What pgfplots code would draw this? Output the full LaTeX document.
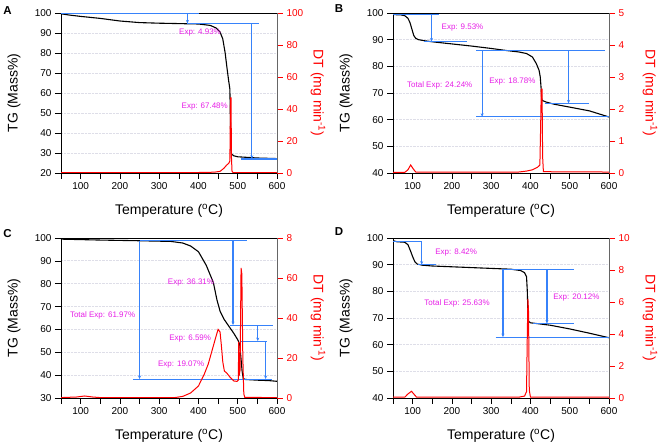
\documentclass[border=0pt]{standalone}
\usepackage{fontspec}
\setmainfont{Liberation Sans}
\usepackage{pgfplots}
\pgfplotsset{compat=1.18}
\usetikzlibrary{arrows.meta}
\definecolor{annblue}{RGB}{55,130,250}
\definecolor{annmag}{RGB}{230,30,230}
\definecolor{dtred}{RGB}{255,0,0}
\definecolor{gridc}{RGB}{222,222,232}
\pgfplotsset{
  tgaxis/.style={scale only axis, width=216pt, height=160pt, anchor=south west,
    xmin=50, xmax=600, xtick={100,200,...,600}, minor xtick={50,150,...,550},
    xtick pos=bottom, ytick pos=left, tick align=outside,
    major tick length=6pt, minor tick length=6pt,
    every tick/.style={black, line width=0.6pt},
    axis line style={black, line width=0.8pt},
    ymajorgrids, major grid style={gridc, densely dotted, line width=0.8pt},
    xlabel={Temperature (\textsuperscript{o}C)}, ylabel={TG (Mass\%)},
    label style={font=\fontsize{14}{16}\selectfont},
    tick label style={font=\fontsize{10}{12}\selectfont},
    xlabel style={at={(axis description cs:0.5,-0.236)}, anchor=center},
    ylabel style={at={(axis description cs:-0.218,0.5)}, anchor=center},
    /pgf/number format/assume math mode=true},
  dtaxis/.style={scale only axis, width=216pt, height=160pt, anchor=south west,
    xmin=50, xmax=600, axis x line=none, axis y line*=right, ymin=0,
    tick align=outside, major tick length=6pt,
    every tick/.style={dtred, line width=0.6pt},
    y axis line style={black!60, line width=0.8pt},
    yticklabel style={dtred, font=\fontsize{10}{12}\selectfont},
    ylabel={DT (mg min\textsuperscript{-1})},
    ylabel style={dtred, font=\fontsize{14}{16}\selectfont, at={(axis description cs:1.19,0.5)}, anchor=center, rotate=180},
    /pgf/number format/assume math mode=true},
  tg/.style={black, line width=1.1pt},
  dt/.style={dtred, line width=1.0pt},
}
\tikzset{
  bl/.style={annblue, line width=1.1pt},
  ba/.style={annblue, line width=1.1pt, -{Stealth[length=3.5pt,width=3pt]}},
  mt/.style={annmag, font=\fontsize{8}{9}\selectfont, inner sep=0pt},
}
\begin{document}
\begin{tikzpicture}[x=1pt,y=1pt]
\useasboundingbox (0,0) rectangle (661,446);
% Panel letters
\node[font=\bfseries\fontsize{11.5}{12}\selectfont] at (7.5,435.5) {A};
\node[font=\bfseries\fontsize{11.5}{12}\selectfont] at (339,437) {B};
\node[font=\bfseries\fontsize{11.5}{12}\selectfont] at (7.5,212) {C};
\node[font=\bfseries\fontsize{11.5}{12}\selectfont] at (339,214) {D};

% ================= A =================
\begin{axis}[tgaxis, at={(61pt,273pt)}, ymin=20, ymax=100, ytick={20,30,...,100}]
\addplot[tg] table {
50 99.6
70 99.0
100 98.3
150 97.3
200 96.0
250 95.2
300 94.9
350 94.7
400 94.5
430 93.8
445 92.5
455 90.5
462 87
468 80
473 72
477 66
480 62
481.5 45
482.5 32
484 29.5
490 28.6
500 28.1
550 27.5
600 27.2
};
\draw[bl] (axis cs:50,99.6) -- (axis cs:402,99.6);
\draw[ba] (axis cs:372,99.6) -- (axis cs:372,94.8);
\draw[bl] (axis cs:372,94.8) -- (axis cs:553,94.8);
\draw[ba] (axis cs:536,94.8) -- (axis cs:536,27.1);
\draw[bl] (axis cs:508,27.0) -- (axis cs:600,27.0);
\node[mt] at (axis cs:404,90.4) {Exp: 4.93\%};
\node[mt] at (axis cs:416,53.4) {Exp: 67.48\%};
\end{axis}
\begin{axis}[dtaxis, at={(61pt,273pt)}, ymax=100, ytick={0,20,...,100}]
\addplot[dt] table {
50 0.3
400 0.3
440 0.5
455 1
465 3
472 5
477 6
480 7.5
481 30
481.8 47
483 47
484 10
485.5 1
488 0.3
600 0.3
};
\end{axis}

% ================= B =================
\begin{axis}[tgaxis, at={(393pt,273pt)}, ymin=40, ymax=100, ytick={40,50,...,100}]
\addplot[tg] table {
50 99.4
70 99.3
80 99.0
88 98
93 96.5
98 94
103 91.5
108 90.5
115 90.0
130 89.6
150 89.2
200 88.4
250 87.6
300 86.7
340 85.9
370 85.4
390 84.8
405 83.5
415 81
422 78.5
425 76
427 72
428.5 68
430 67.2
440 66.6
460 65.8
500 64.7
550 63.3
600 61.0
};
\draw[bl] (axis cs:50,99.3) -- (axis cs:166,99.3);
\draw[ba] (axis cs:148,99.3) -- (axis cs:148,89.3);
\draw[bl] (axis cs:129,89.3) -- (axis cs:239,89.3);
\draw[bl] (axis cs:262,86.1) -- (axis cs:590,86.1);
\draw[ba] (axis cs:277,86.1) -- (axis cs:277,61.1);
\draw[ba] (axis cs:497,86.1) -- (axis cs:497,66.1);
\draw[bl] (axis cs:436,66.1) -- (axis cs:549,66.1);
\draw[bl] (axis cs:262,61.1) -- (axis cs:600,61.1);
\node[mt] at (axis cs:227,94.5) {Exp: 9.53\%};
\node[mt] at (axis cs:169,73) {Total Exp: 24.24\%};
\node[mt] at (axis cs:354,74.4) {Exp: 18.78\%};
\end{axis}
\begin{axis}[dtaxis, at={(393pt,273pt)}, ymax=5, ytick={0,1,...,5}]
\addplot[dt] table {
50 0.02
80 0.02
88 0.1
95 0.25
102 0.12
108 0.03
370 0.03
390 0.06
405 0.1
418 0.18
424 0.25
426 1.5
427.5 2.62
429.5 2.62
431 0.5
433 0.04
600 0.03
};
\end{axis}

% ================= C =================
\begin{axis}[tgaxis, at={(61pt,48pt)}, ymin=30, ymax=100, ytick={30,40,...,100}]
\addplot[tg] table {
50 99.5
150 99.1
250 98.8
330 98.5
360 97.8
380 96.5
400 94
420 88
438 80.5
447 73
455 68
465 64.5
475 62
490 58.3
500 55.5
505 53.5
508 48
511 42
514 38.5
520 38.1
550 37.8
580 37.6
600 37.3
};
\draw[bl] (axis cs:250,98.8) -- (axis cs:523,98.8);
\draw[ba] (axis cs:250,98.8) -- (axis cs:250,38.3);
\draw[ba] (axis cs:488,98.8) -- (axis cs:488,61.9);
\draw[bl] (axis cs:481,61.8) -- (axis cs:590,61.8);
\draw[ba] (axis cs:551,61.8) -- (axis cs:551,54.9);
\draw[bl] (axis cs:507,54.8) -- (axis cs:575,54.8);
\draw[ba] (axis cs:571,54.8) -- (axis cs:571,38.3);
\draw[bl] (axis cs:234,38.2) -- (axis cs:587,38.2);
\node[mt] at (axis cs:381,80.5) {Exp: 36.31\%};
\node[mt] at (axis cs:156,66.3) {Total Exp: 61.97\%};
\node[mt] at (axis cs:379,56) {Exp: 6.59\%};
\node[mt] at (axis cs:356,44.7) {Exp: 19.07\%};
\end{axis}
\begin{axis}[dtaxis, at={(61pt,48pt)}, ymax=80, ytick={0,20,...,80}, yticklabels={0,20,40,60,8}]
\addplot[dt] table {
50 0.2
90 0.5
110 1.0
130 0.5
150 0.2
340 0.2
360 0.8
380 2.5
400 6
415 12
425 17
435 24
445 31
450 34.3
455 33
458 27
462 18
466 13.5
472 12.5
480 10.5
490 8.5
498 8.3
501.5 9
502.5 28
503.5 11
506 14
508.5 65
510.5 62
513 20
515.5 2
518 0.3
600 0.2
};
\end{axis}

% ================= D =================
\begin{axis}[tgaxis, at={(393pt,48pt)}, ymin=40, ymax=100, ytick={40,50,...,100}]
\addplot[tg] table {
50 99.0
60 98.6
80 98.4
88 97.5
95 95
100 93
106 91
112 90.2
125 89.8
150 89.5
200 89.2
250 88.9
300 88.6
350 88.3
375 87.8
385 87.0
390 85.5
392 80
393.5 72
395 68.8
400 68.2
450 67.3
500 65.9
550 64.3
600 62.6
};
\draw[bl] (axis cs:50,98.6) -- (axis cs:125,98.6);
\draw[ba] (axis cs:123,98.6) -- (axis cs:123,90);
\draw[bl] (axis cs:114,89.9) -- (axis cs:159,89.9);
\draw[bl] (axis cs:330,88.2) -- (axis cs:511,88.2);
\draw[ba] (axis cs:330,88.2) -- (axis cs:330,62.8);
\draw[ba] (axis cs:442,88.2) -- (axis cs:442,67.9);
\draw[bl] (axis cs:406,67.8) -- (axis cs:511,67.8);
\draw[bl] (axis cs:311,62.7) -- (axis cs:600,62.7);
\node[mt] at (axis cs:211,94.6) {Exp: 8.42\%};
\node[mt] at (axis cs:213,75.3) {Total Exp: 25.63\%};
\node[mt] at (axis cs:517,77.8) {Exp: 20.12\%};
\end{axis}
\begin{axis}[dtaxis, at={(393pt,48pt)}, ymax=10, ytick={0,2,...,10}]
\addplot[dt] table {
50 0.05
80 0.05
88 0.25
97 0.42
103 0.25
110 0.05
370 0.05
385 0.12
390 0.4
392 4
393.5 6.2
395 5.5
397 0.5
400 0.05
600 0.05
};
\end{axis}
\end{tikzpicture}
\end{document}
